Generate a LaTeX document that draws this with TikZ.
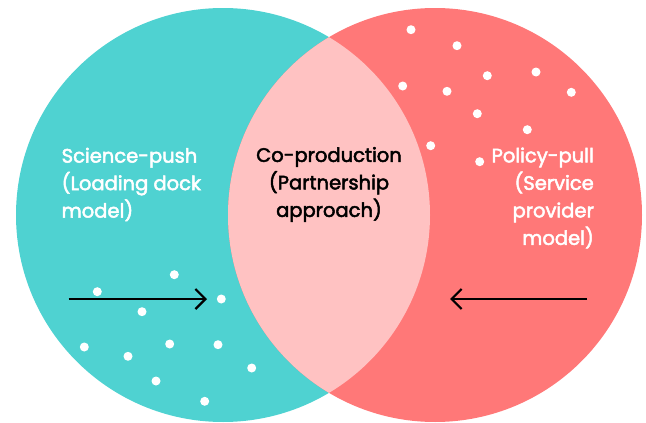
\documentclass[tikz,border=0pt]{standalone}
\usepackage{fontspec}
\setmainfont{Poppins}
\newfontfamily\labelfont{Poppins}[FakeBold=2.5]
\usetikzlibrary{arrows.meta}
\definecolor{teal}{HTML}{4FD2D1}
\definecolor{coral}{HTML}{FF7878}
\definecolor{blush}{HTML}{FFC2C2}
\begin{document}
\begin{tikzpicture}[x=1pt,y=-1pt,
  label text/.style={inner sep=0pt, font=\labelfont\fontsize{19.5}{27.5}\selectfont},
  dot/.style={fill=white},
  flow/.style={line width=2.2pt, -{Straight Barb[length=10pt,width=20pt,line width=2.2pt]}}]
\useasboundingbox (0,0) rectangle (646,423);
% the two overlapping circles and their shared lens
\fill[teal] (223,215) circle[radius=207];
\fill[coral] (435,215) circle[radius=207];
\begin{scope}
  \clip (223,215) circle[radius=207];
  \fill[blush] (435,215) circle[radius=207];
\end{scope}
% scattered dots, left circle
\foreach \p in {(174.3,274.7),(97.3,291.7),(221.3,299),(142,311.7),(84.3,347),
  (128,356.3),(169.7,344),(218,344.7),(251.7,368),(156,381),(204.7,401.3)}
  \fill[dot] \p circle[radius=4.5];
% scattered dots, right circle
\foreach \p in {(411,29.7),(457,45.7),(402.7,86),(447,91.3),(487.3,75.7),
  (536,72),(571.3,92.3),(477.3,113.7),(527.3,129.7),(430.7,145.7),(479.7,161.7)}
  \fill[dot] \p circle[radius=4.5];
% labels
\node[label text, text=white, align=left, anchor=west] (push) at (61.5,184.5)
  {Science-push\\(Loading dock\\model)};
\node[label text, text=black, align=center] (coprod) at (329,184.5)
  {Co-production\\(Partnership\\approach)};
\node[label text, text=white, align=right, anchor=east] (pull) at (594,198)
  {Policy-pull\\(Service\\provider\\model)};
% arrows pointing toward the middle
\coordinate (pushA) at (68.5,299);
\coordinate (pushB) at (207,299);
\coordinate (pullA) at (587,299);
\coordinate (pullB) at (450,299);
\draw[flow] (pushA) -- (pushB);
\draw[flow] (pullA) -- (pullB);
\end{tikzpicture}
\end{document}
